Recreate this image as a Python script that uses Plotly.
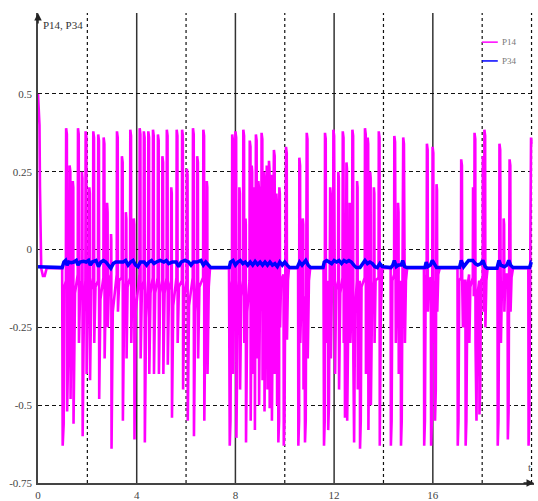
import plotly.graph_objects as go

# ---------------- data ----------------
# P14 (magenta), split per burst: time values and signal values
p14_start_t = [0.00, 0.04, 0.06, 0.08, 0.11, 0.13, 0.20, 0.27, 0.35, 0.98]
p14_start_y = [0.50, 0.43, 0.40, 0.20, 0.05, -0.06, -0.085, -0.085, -0.06, -0.06]

p14_b1_t = [1.00, 1.04, 1.07,
            1.13, 1.14, 1.17, 1.18, 1.23,
            1.27, 1.28, 1.31, 1.32, 1.36,
            1.40, 1.41, 1.43, 1.44, 1.50,
            1.61, 1.62, 1.65, 1.66, 1.71,
            1.77, 1.78, 1.80, 1.81, 1.86,
            1.92, 1.93, 1.96, 1.97, 2.02,
            2.07, 2.08, 2.10, 2.11, 2.16,
            2.23, 2.24, 2.27, 2.28, 2.33,
            2.43, 2.44, 2.47, 2.48, 2.53,
            2.65, 2.66, 2.69, 2.70, 2.75,
            2.79, 2.80, 2.82, 2.83, 2.88,
            2.95, 2.96, 2.97, 2.98, 3.03,
            3.19, 3.20, 3.23, 3.24, 3.29,
            3.39, 3.40, 3.43, 3.44, 3.49,
            3.55, 3.56, 3.58, 3.59, 3.63,
            3.73, 3.74, 3.77, 3.78, 3.82,
            3.87, 3.88, 3.90, 3.91, 3.96,
            4.11, 4.12, 4.15, 4.16, 4.21,
            4.28, 4.29, 4.32, 4.33, 4.38,
            4.46, 4.47, 4.50, 4.51, 4.56,
            4.65, 4.66, 4.69, 4.70, 4.75,
            4.85, 4.86, 4.89, 4.90, 4.95,
            5.03, 5.04, 5.07, 5.08, 5.13,
            5.21, 5.22, 5.25, 5.26, 5.31,
            5.39, 5.40, 5.42, 5.43, 5.48,
            5.61, 5.62, 5.65, 5.66, 5.71,
            5.83, 5.84, 5.87, 5.88, 5.93,
            6.02, 6.03, 6.06, 6.07, 6.12,
            6.27, 6.28, 6.31, 6.32, 6.37,
            6.44, 6.45, 6.48, 6.49, 6.54,
            6.69, 6.70, 6.73, 6.74, 6.79,
            6.83, 6.84, 6.86, 6.87, 6.92, 6.97, 7.74]
p14_b1_y = [-0.63, -0.56, -0.12,
            -0.10, 0.39, 0.37, -0.52, -0.22,
            -0.12, 0.27, 0.25, -0.48, -0.16,
            -0.10, 0.22, 0.20, -0.56, -0.14,
            -0.08, 0.39, 0.37, -0.30, -0.12,
            -0.10, 0.25, 0.23, -0.60, -0.20,
            -0.10, 0.38, 0.36, -0.40, -0.14,
            -0.10, 0.20, 0.18, -0.42, -0.13,
            -0.09, 0.38, 0.36, -0.30, -0.12,
            -0.10, 0.37, 0.35, -0.48, -0.16,
            -0.09, 0.36, 0.34, -0.35, -0.12,
            -0.10, 0.15, 0.12, -0.25, -0.10,
            -0.08, 0.05, 0.03, -0.64, -0.20,
            -0.08, 0.38, 0.36, -0.20, -0.10,
            -0.09, 0.30, 0.28, -0.55, -0.18,
            -0.10, 0.12, 0.10, -0.35, -0.12,
            -0.09, 0.385, 0.365, -0.30, -0.12,
            -0.10, 0.10, 0.08, -0.61, -0.20,
            -0.08, 0.39, 0.37, -0.35, -0.13,
            -0.10, 0.38, 0.36, -0.62, -0.22,
            -0.10, 0.38, 0.36, -0.40, -0.14,
            -0.09, 0.385, 0.365, -0.40, -0.14,
            -0.09, 0.37, 0.35, -0.40, -0.14,
            -0.10, 0.30, 0.28, -0.40, -0.14,
            -0.09, 0.385, 0.365, -0.37, -0.13,
            -0.10, 0.20, 0.18, -0.54, -0.18,
            -0.09, 0.385, 0.365, -0.30, -0.12,
            -0.10, 0.385, 0.365, -0.45, -0.15,
            -0.10, 0.26, 0.24, -0.55, -0.18,
            -0.09, 0.39, 0.37, -0.60, -0.20,
            -0.10, 0.30, 0.28, -0.35, -0.12,
            -0.09, 0.385, 0.365, -0.55, -0.16,
            -0.10, 0.22, 0.20, -0.40, -0.12, -0.06, -0.06]

p14_b2_t = [7.77, 7.80, 7.83,
            7.86, 7.87, 7.90, 7.91, 7.95,
            7.99, 8.00, 8.03, 8.04, 8.09,
            8.15, 8.16, 8.18, 8.19, 8.24,
            8.31, 8.32, 8.35, 8.36, 8.39,
            8.40, 8.41, 8.42, 8.43, 8.48,
            8.57, 8.58, 8.61, 8.62, 8.65,
            8.66, 8.68, 8.69, 8.72,
            8.75, 8.76, 8.78, 8.79, 8.81,
            8.83, 8.86, 8.87, 8.90,
            8.93, 8.95, 8.96, 8.99,
            9.05, 9.06, 9.09, 9.10, 9.12,
            9.15, 9.17, 9.18, 9.21,
            9.26, 9.27, 9.29, 9.30, 9.32,
            9.36, 9.38, 9.39, 9.41,
            9.45, 9.47, 9.48, 9.51,
            9.56, 9.59, 9.60, 9.63,
            9.66, 9.68, 9.69, 9.71,
            9.73, 9.74, 9.77, 9.78, 9.80, 9.81, 9.85,
            9.95, 9.96, 9.99, 10.02, 10.05, 10.08, 10.09, 10.13, 10.17,
            10.54, 10.55, 10.58, 10.59, 10.62, 10.63, 10.68,
            10.72, 10.73, 10.75, 10.76, 10.80,
            10.82, 10.85, 10.89, 10.92, 10.93, 10.98, 11.03, 11.57]
p14_b2_y = [-0.63, -0.55, -0.12,
            -0.10, 0.37, 0.35, -0.40, -0.12,
            -0.10, 0.38, 0.36, -0.605, -0.20,
            -0.10, 0.20, 0.18, -0.45, -0.15,
            -0.10, 0.385, 0.365, -0.30, -0.15,
            -0.12, 0.10, 0.08, -0.62, -0.20,
            -0.10, 0.35, 0.33, -0.55, -0.20,
            0.27, 0.25, -0.40, -0.15,
            -0.12, 0.20, 0.18, -0.58, -0.25,
            0.37, 0.35, -0.35, -0.10,
            0.22, 0.20, -0.50, -0.20,
            -0.10, 0.375, 0.355, -0.42, -0.15,
            0.25, 0.23, -0.52, -0.20,
            -0.05, 0.27, 0.25, -0.45, -0.10,
            0.285, 0.26, -0.51, -0.15,
            0.24, 0.22, -0.55, -0.15,
            0.32, 0.30, -0.40, -0.12,
            0.18, 0.15, -0.50, -0.15,
            -0.10, -0.62, -0.55, 0.20, 0.18, -0.25, -0.10,
            -0.08, -0.63, -0.55, -0.10, 0.33, 0.31, -0.29, -0.10, -0.06,
            -0.06, -0.63, -0.55, 0.295, 0.27, -0.30, -0.12,
            -0.10, 0.10, 0.08, -0.45, -0.15,
            -0.62, -0.55, 0.375, 0.355, -0.35, -0.10, -0.06, -0.06]

p14_b3_t = [11.59, 11.62, 11.63, 11.66, 11.67, 11.72,
            11.75, 11.76, 11.79, 11.82, 11.84, 11.86, 11.87, 11.91,
            11.96, 11.97, 12.00, 12.01, 12.04, 12.08,
            12.16, 12.17, 12.19, 12.20, 12.25,
            12.34, 12.35, 12.38, 12.39, 12.43, 12.44, 12.47,
            12.50, 12.52, 12.53, 12.58,
            12.62, 12.63, 12.65, 12.66, 12.70,
            12.73, 12.74, 12.77, 12.78, 12.81, 12.85,
            12.92, 12.93, 12.95, 12.96, 13.00,
            13.04, 13.05, 13.08, 13.11,
            13.24, 13.25, 13.28, 13.29, 13.33,
            13.35, 13.36, 13.38, 13.39, 13.43,
            13.46, 13.48, 13.49, 13.54,
            13.60, 13.61, 13.63, 13.64, 13.68,
            13.80, 13.81, 13.84, 13.85, 13.89, 13.95, 14.29]
p14_b3_y = [-0.63, -0.55, 0.375, 0.355, -0.30, -0.12,
            -0.10, -0.58, -0.50, -0.10, 0.20, 0.18, -0.35, -0.12,
            -0.09, 0.385, 0.365, -0.25, -0.40, -0.13,
            -0.10, 0.25, 0.23, -0.45, -0.14,
            -0.09, 0.38, 0.36, -0.30, -0.15, -0.54, -0.20,
            0.28, 0.26, -0.55, -0.17,
            -0.10, 0.15, 0.13, -0.30, -0.10,
            -0.09, 0.385, 0.365, -0.35, -0.62, -0.20,
            -0.10, 0.22, 0.20, -0.45, -0.14,
            -0.10, -0.64, -0.55, -0.12,
            -0.09, 0.39, 0.37, -0.40, -0.12,
            -0.10, 0.36, 0.34, -0.58, -0.20,
            0.25, 0.23, -0.50, -0.15,
            -0.10, 0.20, 0.18, -0.30, -0.10,
            -0.09, 0.38, 0.36, -0.63, -0.20, -0.06, -0.06]

p14_b4_t = [14.30, 14.33, 14.36, 14.43, 14.44, 14.47, 14.48, 14.50, 14.54,
            14.58, 14.59, 14.61, 14.62, 14.66,
            14.70, 14.71, 14.74, 14.77, 14.80, 14.83, 14.84, 14.87, 14.91, 14.96,
            15.64, 15.65, 15.68, 15.71, 15.75, 15.76, 15.79, 15.80, 15.84,
            15.92, 15.93, 15.96, 15.99, 16.02, 16.03, 16.06,
            16.08, 16.09, 16.12, 16.15, 16.17, 16.18, 16.22, 16.28, 17.00]
p14_b4_y = [-0.63, -0.55, -0.10, -0.08, 0.365, 0.345, 0.06, -0.30, -0.12,
            -0.10, 0.15, 0.12, -0.40, -0.12,
            -0.10, -0.63, -0.55, -0.10, 0.36, 0.34, 0.08, -0.30, -0.10, -0.06,
            -0.06, -0.63, -0.55, -0.10, -0.08, 0.34, 0.32, -0.20, -0.10,
            -0.09, -0.63, -0.55, 0.33, 0.31, -0.30, -0.10,
            -0.10, -0.55, -0.45, 0.21, 0.19, -0.20, -0.08, -0.06, -0.06]

p14_b5_t = [17.01, 17.04, 17.07, 17.14, 17.15, 17.18, 17.19, 17.22, 17.26,
            17.32, 17.33, 17.36, 17.40, 17.47, 17.48, 17.52,
            17.62, 17.63, 17.65, 17.66, 17.68, 17.69, 17.72, 17.73, 17.77, 17.80,
            17.88, 17.89, 17.92, 17.95, 18.02, 18.03, 18.05, 18.06, 18.08, 18.09,
            18.12, 18.13, 18.17, 18.22, 18.62,
            18.63, 18.66, 18.69, 18.70, 18.73, 18.74, 18.76, 18.80,
            18.86, 18.87, 18.89, 18.90, 18.94,
            19.03, 19.04, 19.07, 19.10, 19.11, 19.14, 19.15, 19.19, 19.25,
            19.87, 19.88, 19.91, 19.95, 19.98, 20.00]
p14_b5_y = [-0.63, -0.55, -0.10, -0.09, 0.29, 0.27, -0.10, -0.25, -0.10,
            -0.10, -0.63, -0.55, -0.12, -0.08, -0.30, -0.12,
            -0.09, 0.20, 0.18, -0.15, -0.10, 0.375, 0.355, -0.30, -0.55, -0.15,
            -0.10, -0.53, -0.45, -0.10, -0.09, 0.30, 0.28, -0.20, -0.10, 0.385,
            0.365, -0.25, -0.10, -0.06, -0.06,
            -0.63, -0.55, -0.10, 0.34, 0.32, -0.10, -0.30, -0.12,
            -0.10, 0.10, 0.08, -0.20, -0.08,
            -0.08, -0.61, -0.52, -0.10, 0.29, 0.27, -0.20, -0.09, -0.06,
            -0.06, -0.63, -0.55, -0.10, 0.36, 0.34]

# P34 (blue)
p34_t = [0.00, 0.98, 1.05, 1.12, 1.18, 1.25, 1.35, 1.45, 1.55, 1.62, 1.70, 1.85,
         1.95, 2.05, 2.12, 2.20, 2.35, 2.45, 2.55, 2.65, 2.75, 2.85, 2.95, 3.05,
         3.15, 3.30, 3.45, 3.55, 3.65, 3.75, 3.85, 3.95, 4.05, 4.15, 4.30, 4.40,
         4.50, 4.60, 4.70, 4.80, 4.95, 5.10, 5.20, 5.30, 5.45, 5.60, 5.70, 5.80,
         5.95, 6.10, 6.20, 6.30, 6.45, 6.60, 6.70, 6.80, 6.90, 7.00, 7.75,
         7.80, 7.90, 8.00, 8.10, 8.20, 8.30, 8.40, 8.50, 8.60, 8.70, 8.80, 8.90,
         9.00, 9.10, 9.20, 9.30, 9.40, 9.50, 9.60, 9.70, 9.80, 9.90, 10.00, 10.10,
         10.20, 10.50, 10.60, 10.70, 10.85, 10.95, 11.05, 11.55,
         11.60, 11.70, 11.80, 11.90, 12.00, 12.10, 12.20, 12.30, 12.40, 12.50,
         12.60, 12.70, 12.80, 12.90, 13.05, 13.15, 13.25, 13.35, 13.45, 13.55,
         13.65, 13.75, 13.85, 13.95, 14.30, 14.38, 14.44, 14.52, 14.60, 14.72,
         14.78, 14.86, 14.95, 15.68, 15.73, 15.80, 15.90, 15.98, 16.08, 16.15,
         17.08, 17.15, 17.25, 17.35, 17.45, 17.62, 17.72, 17.82, 17.95, 18.03,
         18.12, 18.20, 18.60, 18.68, 18.75, 18.90, 19.00, 19.08, 19.15, 19.25,
         19.92, 19.99, 20.00]
p34_y = [-0.055, -0.058, -0.040, -0.035, -0.050, -0.040, -0.042, -0.040, -0.035, -0.050, -0.040, -0.038,
         -0.040, -0.035, -0.050, -0.040, -0.035, -0.055, -0.040, -0.035, -0.040, -0.050, -0.060, -0.045,
         -0.040, -0.040, -0.040, -0.035, -0.050, -0.040, -0.035, -0.050, -0.055, -0.040, -0.040, -0.050,
         -0.040, -0.035, -0.045, -0.040, -0.035, -0.040, -0.035, -0.045, -0.040, -0.040, -0.055, -0.040,
         -0.035, -0.040, -0.050, -0.040, -0.040, -0.035, -0.050, -0.040, -0.050, -0.058, -0.058,
         -0.040, -0.035, -0.050, -0.040, -0.035, -0.045, -0.040, -0.050, -0.040, -0.050, -0.038, -0.048,
         -0.040, -0.050, -0.040, -0.050, -0.040, -0.050, -0.045, -0.055, -0.040, -0.050, -0.040, -0.050,
         -0.058, -0.058, -0.040, -0.050, -0.035, -0.050, -0.058, -0.058,
         -0.040, -0.035, -0.040, -0.045, -0.035, -0.040, -0.035, -0.045, -0.035, -0.040,
         -0.035, -0.040, -0.050, -0.058, -0.058, -0.045, -0.035, -0.045, -0.040, -0.045,
         -0.055, -0.058, -0.045, -0.055, -0.058, -0.050, -0.035, -0.055, -0.050, -0.050,
         -0.035, -0.055, -0.058, -0.058, -0.040, -0.055, -0.050, -0.035, -0.050, -0.058,
         -0.058, -0.035, -0.055, -0.045, -0.035, -0.035, -0.045, -0.050, -0.045, -0.035,
         -0.055, -0.060, -0.060, -0.035, -0.050, -0.055, -0.050, -0.035, -0.050, -0.058,
         -0.058, -0.040, -0.040]

x_tick_vals = [0, 4, 8, 12, 16]
x_tick_text = ["0", "4", "8", "12", "16"]
y_tick_vals = [-0.75, -0.5, -0.25, 0, 0.25, 0.5]
y_tick_text = ["-0.75", "-0.5", "-0.25", "0", "0.25", "0.5"]
grid_solid_x = [4, 8, 12, 16]
grid_dash_x = [2, 6, 10, 14, 18, 20]
series_names = ["P14", "P34"]
series_colors = ["#ff00ff", "#0000ff"]

# ---------------- build ----------------
p14_t = p14_start_t + p14_b1_t + p14_b2_t + p14_b3_t + p14_b4_t + p14_b5_t
p14_y = p14_start_y + p14_b1_y + p14_b2_y + p14_b3_y + p14_b4_y + p14_b5_y

FONT = "Liberation Serif"
fig = go.Figure()
fig.add_trace(go.Scatter(x=p14_t, y=p14_y, mode="lines", name=series_names[0],
                         line=dict(color=series_colors[0], width=2.6), showlegend=False))
fig.add_trace(go.Scatter(x=p34_t, y=p34_y, mode="lines", name=series_names[1],
                         line=dict(color=series_colors[1], width=3.5), showlegend=False))

shapes = []
for gx in grid_solid_x:
    shapes.append(dict(type="line", xref="x", yref="paper", x0=gx, x1=gx, y0=0, y1=1,
                       line=dict(color="#333333", width=1.5), layer="below"))
for gx in grid_dash_x:
    shapes.append(dict(type="line", xref="x", yref="paper", x0=gx, x1=gx, y0=0, y1=1,
                       line=dict(color="#111111", width=1.2, dash="3px,3px"), layer="below"))
# manual legend samples
shapes.append(dict(type="line", xref="paper", yref="paper", x0=0.895, x1=0.927, y0=0.938, y1=0.938,
                   line=dict(color=series_colors[0], width=1.5)))
shapes.append(dict(type="line", xref="paper", yref="paper", x0=0.895, x1=0.927, y0=0.898, y1=0.898,
                   line=dict(color=series_colors[1], width=1.5)))

annotations = [
    dict(xref="paper", yref="paper", x=0.931, y=0.938, text=series_names[0], showarrow=False,
         xanchor="left", yanchor="middle", font=dict(family=FONT, size=9, color="#777777")),
    dict(xref="paper", yref="paper", x=0.931, y=0.898, text=series_names[1], showarrow=False,
         xanchor="left", yanchor="middle", font=dict(family=FONT, size=9, color="#777777")),
    dict(xref="paper", yref="paper", x=0.006, y=0.975, text="P14, P34", showarrow=False,
         xanchor="left", yanchor="middle", font=dict(family=FONT, size=11, color="#333333")),
    dict(xref="paper", yref="paper", x=0.984, y=0.035, text="t", showarrow=False,
         xanchor="left", yanchor="middle", font=dict(family=FONT, size=11, color="#555555")),
    # axis arrows
    dict(xref="paper", yref="paper", x=0, y=1.0, ax=0, ay=12, text="", showarrow=True,
         arrowhead=2, arrowsize=1, arrowwidth=1.5, arrowcolor="#222222"),
    dict(xref="paper", yref="paper", x=1.0, y=0, ax=-12, ay=0, text="", showarrow=True,
         arrowhead=2, arrowsize=1, arrowwidth=1.5, arrowcolor="#222222"),
]

fig.update_layout(
    width=538, height=501,
    margin=dict(l=38, r=4, t=13, b=18, autoexpand=False),
    paper_bgcolor="white", plot_bgcolor="white",
    shapes=shapes, annotations=annotations,
    showlegend=False,
    xaxis=dict(range=[0, 20.1], tickvals=x_tick_vals, ticktext=x_tick_text, showgrid=False,
               zeroline=False, showline=True, linecolor="#444444", linewidth=1.5,
               automargin=False, ticks="", ticklabelstandoff=1,
               tickfont=dict(family=FONT, size=11, color="#444444")),
    yaxis=dict(range=[-0.75, 0.76], tickvals=y_tick_vals, ticktext=y_tick_text, showgrid=True,
               gridcolor="#111111", gridwidth=1.2, griddash="4px,3px",
               zeroline=False, showline=True, linecolor="#444444", linewidth=1.5,
               automargin=False, ticks="", ticklabelstandoff=2,
               tickfont=dict(family=FONT, size=11, color="#444444")),
)

fig.write_html("out.html", config={"displayModeBar": False},
               post_script="document.body.style.margin='0';document.body.style.overflow='hidden';")
